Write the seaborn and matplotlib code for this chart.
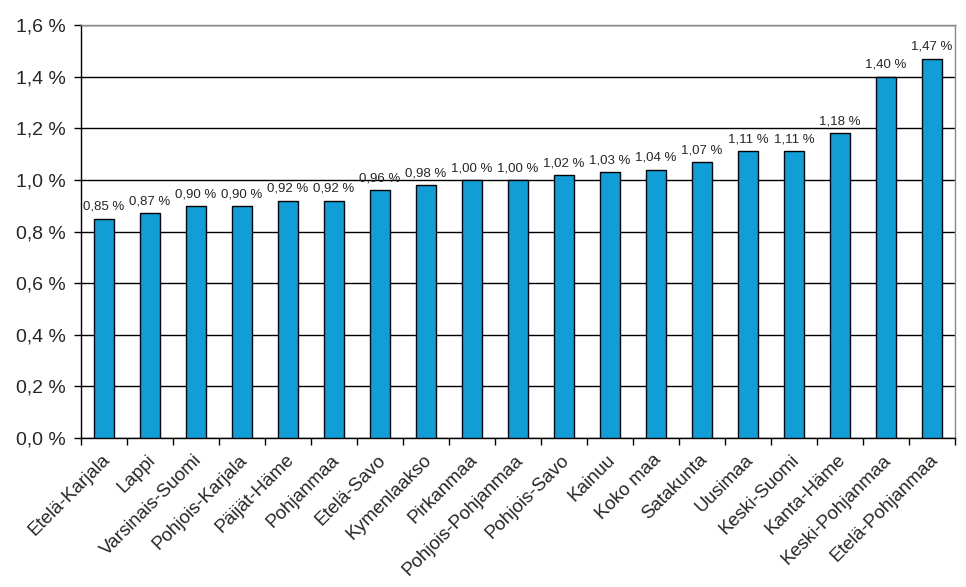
import seaborn as sns
import matplotlib.pyplot as plt
import matplotlib.transforms as mtransforms
import pandas as pd

regions = ["Etelä-Karjala", "Lappi", "Varsinais-Suomi", "Pohjois-Karjala", "Päijät-Häme",
           "Pohjanmaa", "Etelä-Savo", "Kymenlaakso", "Pirkanmaa", "Pohjois-Pohjanmaa",
           "Pohjois-Savo", "Kainuu", "Koko maa", "Satakunta", "Uusimaa", "Keski-Suomi",
           "Kanta-Häme", "Keski-Pohjanmaa", "Etelä-Pohjanmaa"]
values = [0.85, 0.87, 0.90, 0.90, 0.92, 0.92, 0.96, 0.98, 1.00, 1.00,
          1.02, 1.03, 1.04, 1.07, 1.11, 1.11, 1.18, 1.40, 1.47]
yticks = [0.0, 0.2, 0.4, 0.6, 0.8, 1.0, 1.2, 1.4, 1.6]

df = pd.DataFrame({"alue": regions, "arvo": values})

sns.set_style("white")
plt.rcParams['font.family'] = ['Liberation Sans', 'DejaVu Sans']

fig = plt.figure(figsize=(9.66, 5.87), dpi=100)
ax = fig.add_axes([0.0839, 0.2538, 0.9047, 0.7036])

sns.barplot(data=df, x="alue", y="arvo", color="#119ED6", saturation=1,
            width=0.42, edgecolor="black", linewidth=1, ax=ax, zorder=3)

for i, v in enumerate(values):
    ax.text(i, v + 0.022, f"{v:.2f} %".replace(".", ","), ha="center", va="bottom",
            fontsize=9.5, zorder=4)

ax.set_ylim(0, 1.6)
ax.set_xlim(-0.5, len(regions) - 0.5)
ax.set_yticks(yticks)
ax.set_yticklabels([f"{t:.1f} %".replace(".", ",") for t in yticks], fontsize=14)
ax.yaxis.grid(True, color="black", linewidth=1, zorder=0)
ax.set_axisbelow(True)

ax.set_xticks(range(len(regions)))
ax.set_xticklabels(regions, rotation=45, ha="right", va="center",
                   rotation_mode="anchor", fontsize=13.5)
ax.tick_params(axis="x", length=0, pad=14)
shift = mtransforms.ScaledTranslation(3 / 100, 0, fig.dpi_scale_trans)
for lbl in ax.get_xticklabels():
    lbl.set_transform(lbl.get_transform() + shift)
ax.tick_params(axis="y", left=True, length=5, width=1, color="black", pad=6)
# category separator ticks on x axis
ax.set_xticks([i - 0.5 for i in range(len(regions) + 1)], minor=True)
ax.tick_params(axis="x", which="minor", bottom=True, length=5, width=1, color="black")

ax.set_xlabel("")
ax.set_ylabel("")
for side in ["left", "bottom"]:
    ax.spines[side].set_color("black")
    ax.spines[side].set_linewidth(1)
for side in ["top", "right"]:
    ax.spines[side].set_color("#888888")
    ax.spines[side].set_linewidth(1)

fig.savefig("out.png", dpi=100)
